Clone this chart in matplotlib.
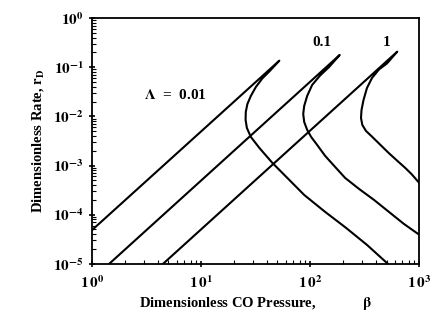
import matplotlib
matplotlib.use('Agg')
import matplotlib.pyplot as plt
from matplotlib.ticker import FixedLocator, LogLocator, NullFormatter

plt.rcParams['font.family'] = ['Liberation Serif', 'DejaVu Serif']
plt.rcParams['font.weight'] = 'bold'
plt.rcParams['mathtext.fontset'] = 'stix'

# rate curves r_D(beta) for each Lambda: rising branch up to the tip,
# then the fold back and the falling branch
beta_001 = [1.0, 52.0, 42.1, 36.3, 31.7, 28.5, 26.5, 25.6, 25.5, 26.2, 28.5,
            34.1, 44.9, 61.5, 87.9, 136.8, 212.8, 331, 515]
rate_001 = [4.9e-5, 0.1355, 0.0818, 0.0589, 0.0396, 0.0260, 0.01786, 0.01228,
            0.00845, 0.00581, 0.00381, 2.28e-3, 1.13e-3, 5.60e-4, 2.52e-4,
            1.14e-4, 5.39e-5, 2.43e-5, 1.0e-5]

beta_01 = [1.43, 186, 148.9, 123.1, 104.0, 93.6, 87.9, 86.1, 87.9, 93.6, 101.8,
           115.6, 136.8, 165.6, 208.5, 280, 383.7, 526, 721, 1000]
rate_01 = [1.0e-5, 0.177, 0.1009, 0.0678, 0.0435, 0.0260, 0.01626, 0.01119,
           0.00769, 0.00530, 0.00381, 0.00262, 0.00157, 9.82e-4, 5.60e-4,
           3.34e-4, 2.0e-4, 1.14e-4, 6.5e-5, 3.9e-5]

beta_1 = [4.46, 627, 504.7, 426.6, 368, 331, 307.6, 295, 291.7, 300, 324,
          370.5, 440, 526, 622, 748, 853, 1000]
rate_1 = [1.0e-5, 0.2065, 0.1189, 0.0898, 0.0603, 0.0378, 0.0215, 0.01349,
          0.00927, 0.00668, 0.00505, 0.00381, 0.00262, 0.00178, 0.00127,
          8.8e-4, 6.6e-4, 4.4e-4]

fig = plt.figure(figsize=(4.35, 3.21), dpi=100)
ax = fig.add_axes([0.212, 0.178, 0.752, 0.766])

for b, r in [(beta_001, rate_001), (beta_01, rate_01), (beta_1, rate_1)]:
    ax.plot(b, r, color='black', lw=1.5, solid_joinstyle='round',
            solid_capstyle='round')

ax.set_xscale('log')
ax.set_yscale('log')
ax.set_xlim(1, 1000)
ax.set_ylim(1e-5, 1)

ax.xaxis.set_major_locator(FixedLocator([1, 10, 100, 1000]))
ax.yaxis.set_major_locator(FixedLocator([1e-5, 1e-4, 1e-3, 1e-2, 1e-1, 1]))
ax.xaxis.set_minor_locator(LogLocator(base=10, subs=range(2, 10)))
ax.yaxis.set_minor_locator(LogLocator(base=10, subs=range(2, 10)))
ax.xaxis.set_minor_formatter(NullFormatter())
ax.yaxis.set_minor_formatter(NullFormatter())
ax.set_xticklabels([r'$\mathbf{1\,0^{%d}}$' % e for e in range(0, 4)])
ax.set_yticklabels([r'$\mathbf{10^{-5}}$', r'$\mathbf{10^{-4}}$',
                    r'$\mathbf{10^{-3}}$', r'$\mathbf{10^{-2}}$',
                    r'$\mathbf{10^{-1}}$', r'$\mathbf{10^{0}}$'])
ax.tick_params(which='major', direction='inout', length=5, width=1.2,
               labelsize=11, top=False, right=False)
ax.tick_params(which='minor', direction='in', length=3, width=0.8,
               top=False, right=False)
ax.tick_params(axis='x', pad=5)
for s in ax.spines.values():
    s.set_linewidth(1.3)

ax.set_xlabel(r'Dimensionless CO Pressure,             $\mathbf{\beta}$',
              fontsize=10.5, fontweight='bold', labelpad=3)
ax.set_ylabel(r'Dimensionless Rate, $\mathbf{r}_{\mathbf{D}}$',
              fontsize=10.5, fontweight='bold', labelpad=5)

ax.text(3.0, 0.027, r'$\mathbf{\Lambda}$  =  0.01', fontsize=11,
        fontweight='bold', ha='left', va='center')
ax.text(128, 0.31, '0.1', fontsize=11, fontweight='bold', ha='center', va='center')
ax.text(505, 0.31, '1', fontsize=11, fontweight='bold', ha='center', va='center')

fig.savefig('out.png', dpi=100)
